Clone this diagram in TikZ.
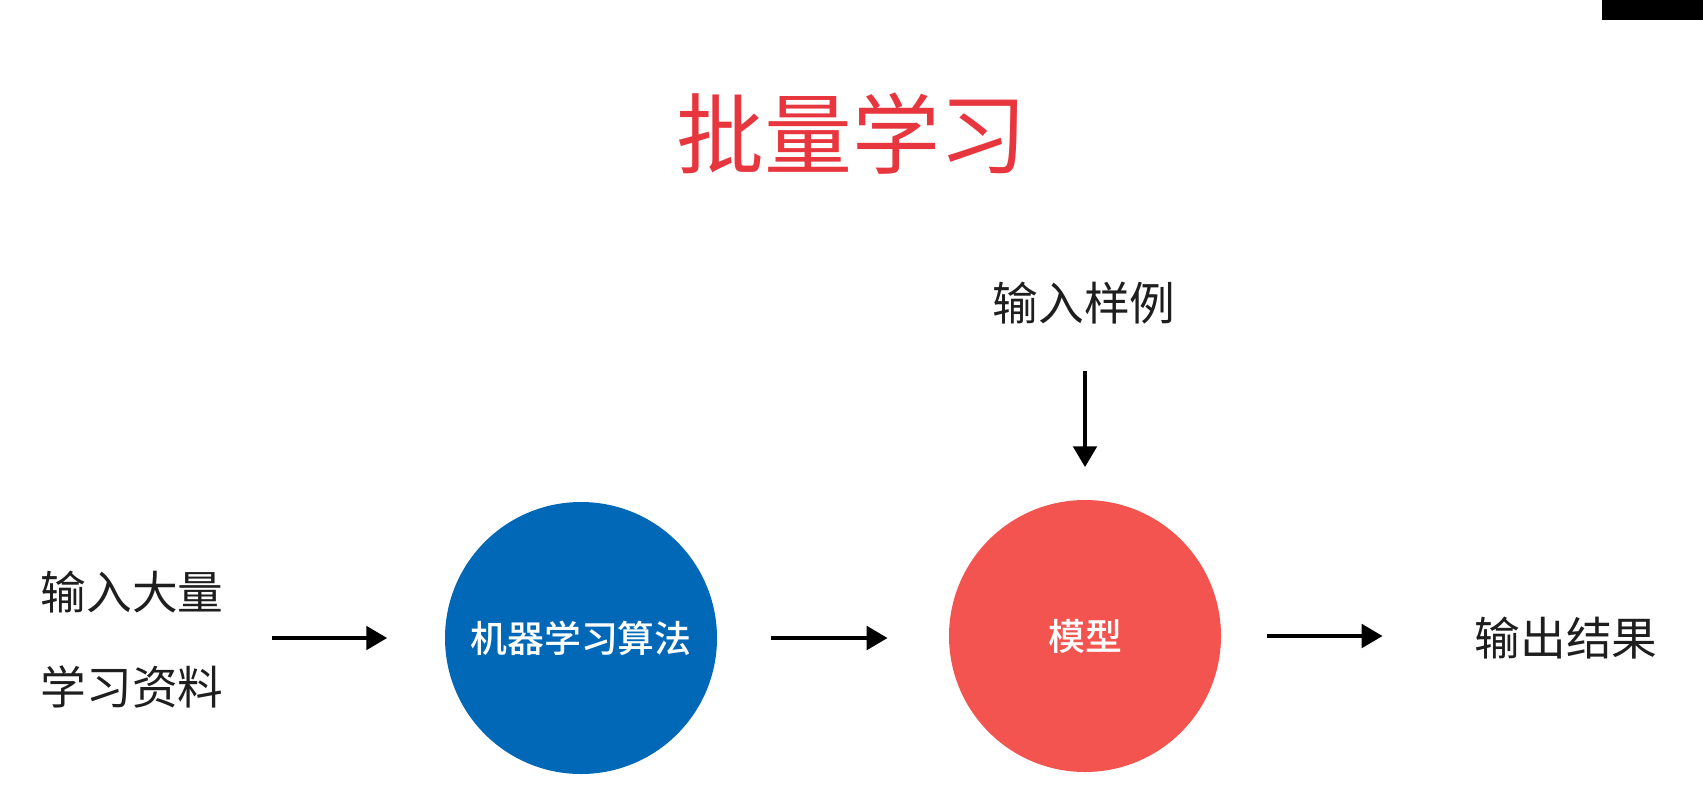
\documentclass[tikz,border=0pt]{standalone}
\usepackage{fontspec}
\newfontfamily\cjk{Noto Sans CJK SC}
\newfontfamily\cjkmed{Noto Sans CJK SC Medium}
\usetikzlibrary{positioning,arrows.meta}
\definecolor{titlered}{HTML}{E8363F}
\definecolor{algoblue}{HTML}{0068B6}
\definecolor{modelred}{HTML}{F35450}
\definecolor{textgray}{HTML}{1E1E1E}

\tikzset{
  ball/.style={circle, minimum size=2.72cm, inner sep=0pt, text=white,
    font=\cjkmed\fontsize{10.5}{12}\selectfont},
  label/.style={text=textgray, inner sep=0pt, font=\cjk\fontsize{13}{27}\selectfont},
  flow/.style={line width=1.4pt, -{Triangle[length=2.1mm, width=2.3mm]}}
}

\begin{document}
\begin{tikzpicture}
    \useasboundingbox (0,0) rectangle (17.03,-8.08);
    \fill (16.02,0) rectangle (17.03,-0.20);

    \node [text=titlered, font=\cjk\fontsize{25}{30}\selectfont] (title) at (8.52,-1.34) {批量学习};

    \node [ball, fill=algoblue] (algo) at (5.81,-6.38) {机器学习算法};
    \node [ball, fill=modelred] (model) at (10.85,-6.36) {模型};
    \node [label, align=left, anchor=west] (data) at (0.40,-6.40) {输入大量\\学习资料};
    \node [label] (sample) at (10.84,-3.03) {输入样例};
    \node [label] (result) at (15.66,-6.38) {输出结果};

    \coordinate [left=0.57cm of algo] (a1e);
    \coordinate [left=1.15cm of a1e] (a1s);
    \coordinate [right=0.53cm of algo] (a2s);
    \coordinate [right=1.17cm of a2s] (a2e);
    \coordinate [right=0.45cm of model] (a3s);
    \coordinate [right=1.16cm of a3s] (a3e);
    \coordinate [above=0.32cm of model] (a4e);
    \coordinate [above=0.96cm of a4e] (a4s);

    \draw [flow] (a1s) -- (a1e);
    \draw [flow] (a2s) -- (a2e);
    \draw [flow] (a3s) -- (a3e);
    \draw [flow] (a4s) -- (a4e);
\end{tikzpicture}
\end{document}
